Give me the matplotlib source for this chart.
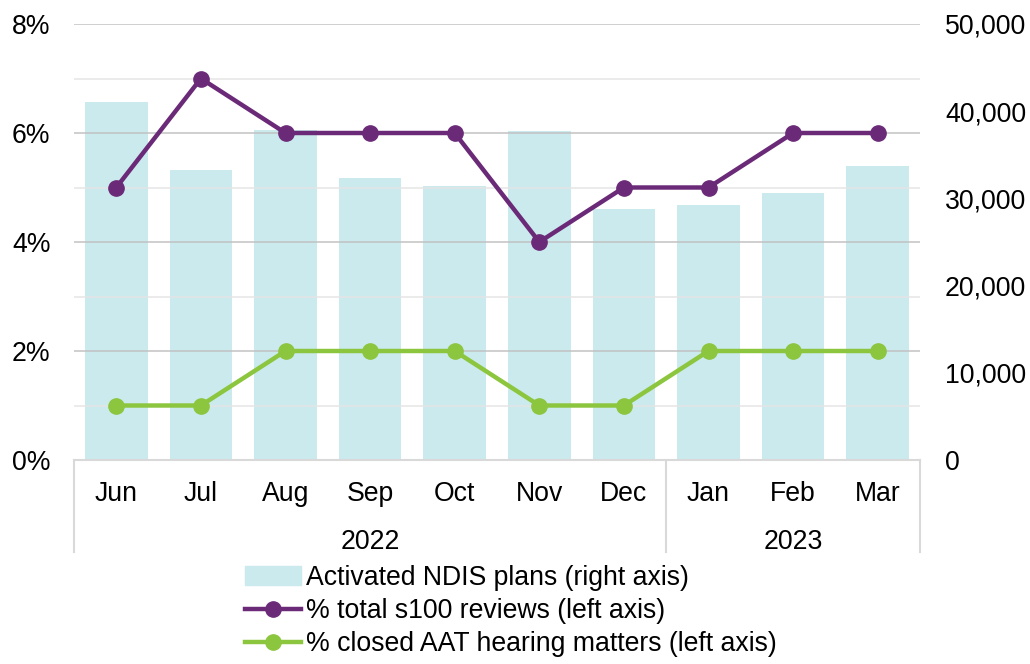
import matplotlib.pyplot as plt
import matplotlib.transforms as mtransforms
from matplotlib.patches import Patch
from matplotlib.lines import Line2D

plt.rcParams['font.family'] = ['Liberation Sans', 'DejaVu Sans']

# data
months = ['Jun', 'Jul', 'Aug', 'Sep', 'Oct', 'Nov', 'Dec', 'Jan', 'Feb', 'Mar']
years = ['2022', '2023']
year_counts = [7, 3]
ndis_plans = [41100, 33300, 37900, 32300, 31400, 37700, 28800, 29200, 30600, 33700]
s100_pct = [5, 7, 6, 6, 6, 4, 5, 5, 6, 6]
aat_pct = [1, 1, 2, 2, 2, 1, 1, 2, 2, 2]

bar_col = '#CBEAED'
purple = '#6B2A78'
green = '#8CC63F'
edge = '#D9D9D9'
fs = 19.2

fig = plt.figure(figsize=(10.3, 6.64), dpi=100)
ax = fig.add_axes([74 / 1030, 1 - 460 / 664, 846 / 1030, 436 / 664])
ax2 = ax.twinx()

x = list(range(len(months)))
ax2.bar(x, ndis_plans, width=0.74, color=bar_col, zorder=1)
ax2.set_ylim(0, 50000)
ax2.set_yticks(range(0, 50001, 10000))
ax2.set_yticklabels(['{:,}'.format(v) for v in range(0, 50001, 10000)])

ax.set_zorder(ax2.get_zorder() + 1)
ax.patch.set_visible(False)

ax.plot(x, s100_pct, color=purple, lw=3.2, marker='o', ms=11, zorder=3)
ax.plot(x, aat_pct, color=green, lw=3.2, marker='o', ms=11, zorder=3)
ax.set_ylim(0, 8)
ax.set_yticks([0, 2, 4, 6, 8])
ax.set_yticklabels(['0%', '2%', '4%', '6%', '8%'])
for v in range(1, 9):
    ax.axhline(v, color='#BFBFBF' if v % 2 == 0 else '#E4E4E4', lw=1.3, alpha=0.8, zorder=0)
ax.set_xlim(-0.5, len(months) - 0.5)
ax.set_xticks(x)
ax.set_xticklabels(months)

for a in (ax, ax2):
    for s in a.spines.values():
        s.set_visible(False)
    a.tick_params(length=0, labelsize=fs)
ax.tick_params(axis='y', pad=17)
ax2.tick_params(axis='y', pad=18)
ax.tick_params(axis='x', pad=15)

# multi-level category axis
ax.plot([0, 1], [0, 0], transform=ax.transAxes, color=edge, lw=1.5, clip_on=False)
trans = mtransforms.blended_transform_factory(ax.transData, ax.transAxes)
bounds = [-0.5]
for n in year_counts:
    bounds.append(bounds[-1] + n)
for b in bounds:
    ax.plot([b, b], [0, -0.212], transform=trans, color=edge, lw=1.5, clip_on=False)
for i, yr in enumerate(years):
    mid = (bounds[i] + bounds[i + 1]) / 2
    ax.text(mid, -0.187, yr, transform=trans, ha='center', va='center', fontsize=fs)

handles = [Patch(color=bar_col),
           Line2D([], [], color=purple, lw=3.2, marker='o', ms=11),
           Line2D([], [], color=green, lw=3.2, marker='o', ms=11)]
labels = ['Activated NDIS plans (right axis)',
          '% total s100 reviews (left axis)',
          '% closed AAT hearing matters (left axis)']
fig.legend(handles, labels, loc='upper left', bbox_to_anchor=(245 / 1030, 1 - 565 / 664),
           frameon=False, fontsize=fs, handlelength=2.1, handletextpad=0.2,
           labelspacing=0.27, borderpad=0, borderaxespad=0)

fig.savefig('out.png', dpi=100)
